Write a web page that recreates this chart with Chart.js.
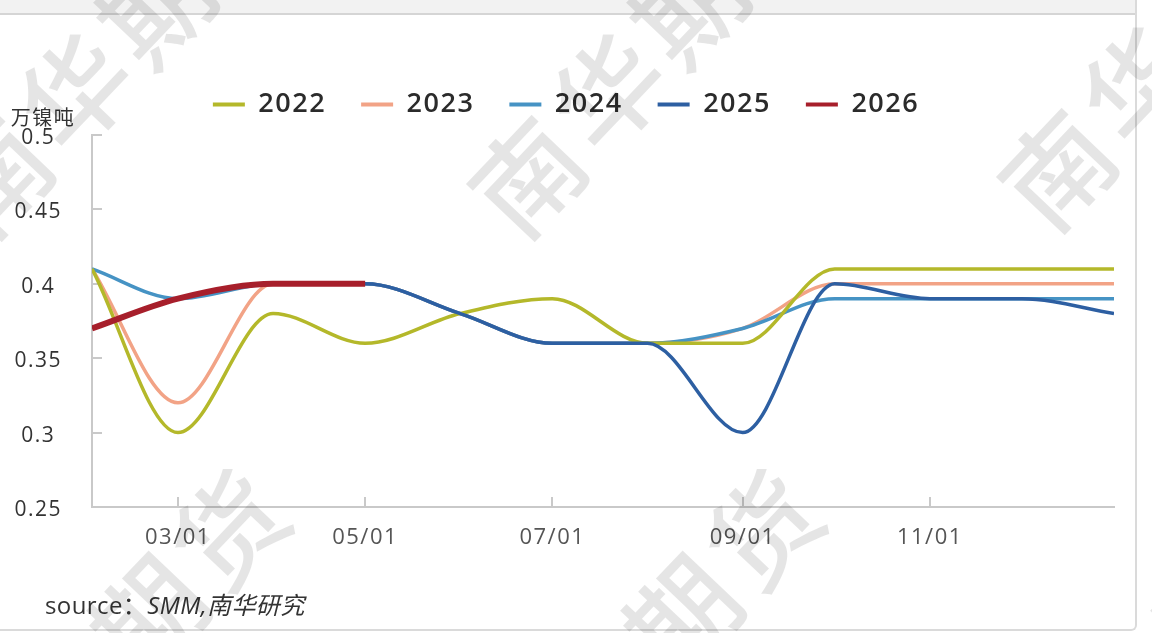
<!DOCTYPE html>
<html>
<head>
<meta charset="utf-8">
<script src="https://cdn.jsdelivr.net/npm/chart.js@4/dist/chart.umd.min.js"></script>
<style>
    html, body { margin: 0; padding: 0; background: #fff; width: 1152px; height: 633px; overflow: hidden; }
    .card {
        position: absolute; left: -2px; top: 0; width: 1139px; height: 631px;
        border-right: 2px solid #dadada; border-bottom: 2px solid #dadada;
        border-radius: 0 0 6px 0; box-sizing: border-box;
    }
    .topbar {
        position: absolute; left: 0; top: 0; width: 1135px; height: 15px;
        background: #f2f2f2; border-bottom: 2px solid #d5d5d5; box-sizing: border-box;
    }
    #chartNikel { position: absolute; left: 0; top: 14px; }
    .source {
        position: absolute; left: 45px; top: 586px;
        font: 24px "Open Sans", "Noto Sans CJK SC", sans-serif;
        color: #333; letter-spacing: 0.4px; white-space: nowrap;
    }
    .source i { font-style: italic; }
    #watermark { position: absolute; left: 0; top: 0; pointer-events: none; }
</style>
</head>
<body>
<div class="card"></div>
<div class="topbar"></div>
<canvas id="chartNikel" width="1136" height="576"></canvas>
<div class="source">source：<i>SMM,南华研究</i></div>
<canvas id="watermark" width="1152" height="633"></canvas>

<script>
// hari ke- dalam tahun (01/02 .. 31/12)
const days = [31, 59, 90, 120, 151, 181, 212, 243, 273, 304, 334, 364];
const tickDays = [59, 120, 181, 243, 304];
const tickLabels = ["03/01", "05/01", "07/01", "09/01", "11/01"];

const years = ["2022", "2023", "2024", "2025", "2026"];
const v2022 = [0.41, 0.30, 0.38, 0.36, 0.38, 0.39, 0.36, 0.36, 0.41, 0.41, 0.41, 0.41];
const v2023 = [0.41, 0.32, 0.40, 0.40, 0.38, 0.36, 0.36, 0.37, 0.40, 0.40, 0.40, 0.40];
const v2024 = [0.41, 0.39, 0.40, 0.40, 0.38, 0.36, 0.36, 0.37, 0.39, 0.39, 0.39, 0.39];
const v2025 = [null, null, 0.40, 0.40, 0.38, 0.36, 0.36, 0.30, 0.40, 0.39, 0.39, 0.38];
const v2026 = [0.37, 0.39, 0.40, 0.40];

const colors = ["#b4b82a", "#f2a386", "#4693c4", "#2d5fa2", "#a71f2b"];
const widths = [3.5, 3.5, 3.5, 3.5, 6];
const drawOrder = [2, 4, 3, 1, 0]; // 2026 paling atas

const series = [v2022, v2023, v2024, v2025, v2026];

const FONT = '"Open Sans", "Noto Sans CJK SC", sans-serif';

document.addEventListener("DOMContentLoaded", () => {
    renderChart();
    renderWatermark();
});

const letterSpacing = {
    id: "letterSpacing",
    beforeUpdate(chart) {
        chart.ctx.letterSpacing = "1.5px";
    },
    beforeDraw(chart) {
        chart.ctx.letterSpacing = "1.5px";
    },
};

// tinggi legend tetap, geser sedikit ke kanan
const legendBox = {
    id: "legendBox",
    beforeLayout(chart) {
        const legend = chart.legend;
        if (!legend || legend._fixed) return;
        const fit = legend.fit;
        legend.fit = function () {
            fit.call(this);
            this.height = 79;
        };
        legend._fixed = true;
    },
    afterLayout(chart) {
        chart.legend.left += 9;
        chart.legend.right += 9;
    },
};

// tick kecil ke arah dalam
const innerTicks = {
    id: "innerTicks",
    beforeDatasetsDraw(chart) {
        const { ctx, chartArea, scales } = chart;
        ctx.save();
        ctx.strokeStyle = "#c9c9c9";
        ctx.lineWidth = 2;
        ctx.beginPath();
        scales.y.ticks.forEach((t) => {
            const py = Math.round(scales.y.getPixelForValue(t.value));
            ctx.moveTo(chartArea.left, py);
            ctx.lineTo(chartArea.left + 10, py);
        });
        scales.x.ticks.forEach((t) => {
            const px = Math.round(scales.x.getPixelForValue(t.value));
            ctx.moveTo(px, chartArea.bottom);
            ctx.lineTo(px, chartArea.bottom - 10);
        });
        ctx.stroke();
        ctx.restore();
    },
};

const unitLabel = {
    id: "unitLabel",
    afterDraw(chart) {
        const { ctx, chartArea } = chart;
        ctx.save();
        ctx.font = '20px "Noto Sans CJK SC", sans-serif';
        ctx.fillStyle = "#333";
        ctx.textAlign = "center";
        ctx.textBaseline = "middle";
        ctx.fillText("万镍吨", 43, chartArea.top - 18);
        ctx.restore();
    },
};

function renderChart() {
    const ctx = document.getElementById("chartNikel").getContext("2d");

    const datasets = years.map((label, i) => ({
        label,
        data: series[i].map((v, j) => ({ x: days[j], y: v })),
        borderColor: colors[i],
        backgroundColor: colors[i],
        borderWidth: widths[i],
        pointRadius: 0,
        pointHoverRadius: 0,
        cubicInterpolationMode: "monotone",
        fill: false,
        order: drawOrder[i],
    }));

    new Chart(ctx, {
        type: "line",
        data: { datasets },
        options: {
            responsive: false,
            devicePixelRatio: 1,
            animation: false,
            layout: { padding: { top: 42, right: 22, bottom: 0, left: 0 } },
            plugins: {
                tooltip: { enabled: false },
                legend: {
                    position: "top",
                    labels: {
                        usePointStyle: true,
                        pointStyle: "line",
                        pointStyleWidth: 32,
                        padding: 35,
                        color: "#2b2b2b",
                        font: { family: FONT, size: 27, weight: "600" },
                        generateLabels(chart) {
                            const items = Chart.defaults.plugins.legend.labels.generateLabels(chart);
                            items.forEach((it) => {
                                it.pointStyle = "line";
                                it.lineWidth = 4;
                                it.strokeStyle = colors[it.datasetIndex];
                            });
                            return items.sort((a, b) => a.datasetIndex - b.datasetIndex);
                        },
                    },
                },
            },
            scales: {
                x: {
                    type: "linear",
                    min: days[0],
                    max: days[days.length - 1],
                    grid: { display: false, drawTicks: false },
                    border: { color: "#c9c9c9", width: 2 },
                    afterBuildTicks(scale) {
                        scale.ticks = tickDays.map((v) => ({ value: v }));
                    },
                    ticks: {
                        autoSkip: false,
                        maxRotation: 0,
                        padding: 18,
                        color: "#555",
                        font: { family: FONT, size: 22 },
                        callback: (v) => tickLabels[tickDays.indexOf(v)],
                    },
                    afterFit(scale) {
                        scale.height = 83;
                    },
                },
                y: {
                    min: 0.25,
                    max: 0.5,
                    grid: { display: false, drawTicks: false },
                    border: { color: "#c9c9c9", width: 2 },
                    ticks: {
                        stepSize: 0.05,
                        padding: 30,
                        labelOffset: 3,
                        crossAlign: "center",
                        color: "#333",
                        font: { family: FONT, size: 21 },
                        callback: (v) => String(+v.toFixed(2)),
                    },
                    afterFit(scale) {
                        scale.width = 92;
                    },
                },
            },
        },
        plugins: [letterSpacing, legendBox, innerTicks, unitLabel],
    });
}

function renderWatermark() {
    const ctx = document.getElementById("watermark").getContext("2d");
    const text = "南华期货";
    const angle = (-46.5 * Math.PI) / 180;
    const step = 117;
    const anchors = [
        [-5, 177], [528, 177], [1058, 170],
        [-12, 785], [522, 785], [1052, 785],
    ];

    ctx.fillStyle = "rgba(0, 0, 0, 0.1)";
    ctx.font = '500 108px "Noto Sans CJK SC", sans-serif';
    ctx.textAlign = "center";
    ctx.textBaseline = "middle";

    anchors.forEach(([cx, cy]) => {
        [...text].forEach((ch, i) => {
            ctx.save();
            ctx.translate(cx + i * step * Math.cos(angle), cy + i * step * Math.sin(angle));
            ctx.rotate(angle);
            ctx.fillText(ch, 0, 0);
            ctx.restore();
        });
    });
}
</script>
</body>
</html>
